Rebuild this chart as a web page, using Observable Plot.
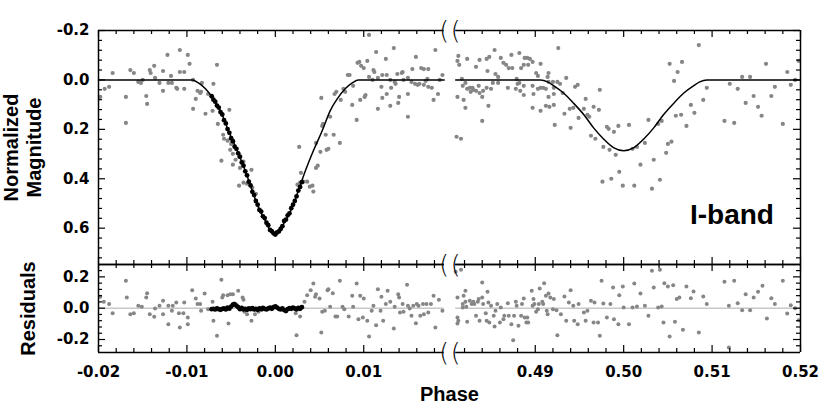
<!DOCTYPE html>
<html><head><meta charset="utf-8">
<script src="https://cdn.jsdelivr.net/npm/d3@7"></script>
<script src="https://cdn.jsdelivr.net/npm/@observablehq/plot@0.6"></script>
<style>
body{margin:0;background:#fff;}
#chart{position:relative;width:830px;height:413px;overflow:hidden;}
#chart svg{position:absolute;left:0;display:block;overflow:visible;}
</style></head><body><div id="chart"></div>
<script>
// ---------- DATA ----------
// axis tick labels (phase)
const xMajor = [-0.02, -0.01, 0.00, 0.01, 0.49, 0.50, 0.51, 0.52];
const yMajorTop = [-0.2, 0.0, 0.2, 0.4, 0.6];
const yMajorRes = [-0.2, 0.0, 0.2];

// model light curve: primary eclipse (left) and secondary eclipse (right)
const modelLeftPhase = [-0.0200, -0.0094, -0.0087, -0.0079, -0.0070, -0.0062, -0.0053, -0.0043, -0.0034, -0.0026, -0.0019, -0.0014, -0.0010, -0.0005, 0.0000, 0.0005, 0.0010, 0.0014, 0.0019, 0.0026, 0.0034, 0.0043, 0.0053, 0.0062, 0.0070, 0.0079, 0.0087, 0.0094, 0.0191];
const modelLeftMag   = [0.000, 0.000, 0.012, 0.036, 0.077, 0.125, 0.206, 0.287, 0.368, 0.449, 0.517, 0.553, 0.578, 0.614, 0.622, 0.614, 0.578, 0.553, 0.517, 0.449, 0.368, 0.287, 0.206, 0.125, 0.077, 0.036, 0.012, 0.000, 0.000];
const modelRightPhase = [0.4810, 0.4906, 0.4914, 0.4921, 0.4932, 0.4943, 0.4955, 0.4966, 0.4977, 0.4989, 0.5000, 0.5011, 0.5023, 0.5034, 0.5045, 0.5057, 0.5068, 0.5079, 0.5086, 0.5094, 0.5200];
const modelRightMag   = [0.000, 0.000, 0.008, 0.024, 0.053, 0.093, 0.141, 0.194, 0.238, 0.275, 0.287, 0.275, 0.238, 0.194, 0.141, 0.093, 0.053, 0.024, 0.008, 0.000, 0.000];

// dense (black) primary-eclipse observations
const blackPhase = [-0.0072,-0.0070,-0.0068,-0.0066,-0.0064,-0.0062,-0.0060,-0.0058,-0.0056,-0.0054,-0.0052,-0.0050,-0.0048,-0.0046,-0.0044,-0.0042,-0.0040,-0.0038,-0.0036,-0.0034,-0.0032,-0.0030,-0.0028,-0.0026,-0.0024,-0.0022,-0.0020,-0.0018,-0.0016,-0.0014,-0.0012,-0.0010,-0.0008,-0.0006,-0.0004,-0.0002,0.0000,0.0002,0.0004,0.0006,0.0008,0.0010,0.0012,0.0014,0.0016,0.0018,0.0020,0.0022,0.0024,0.0026,0.0028,0.0030];
const blackMag = [0.066,0.080,0.088,0.104,0.112,0.130,0.140,0.163,0.176,0.199,0.214,0.236,0.248,0.270,0.279,0.297,0.311,0.334,0.347,0.370,0.386,0.412,0.427,0.453,0.466,0.490,0.505,0.526,0.533,0.552,0.559,0.578,0.588,0.607,0.612,0.621,0.626,0.617,0.613,0.603,0.592,0.571,0.565,0.548,0.540,0.519,0.505,0.490,0.471,0.448,0.433,0.414];
const blackRes = [-0.006,-0.004,-0.008,-0.002,-0.006,-0.010,-0.004,-0.002,-0.008,0.004,-0.003,0.010,0.022,0.026,0.016,0.006,-0.006,0.002,-0.008,-0.004,-0.010,-0.002,-0.006,0.000,-0.008,-0.004,-0.010,-0.002,-0.006,0.002,-0.004,-0.008,-0.002,0.004,-0.004,0.006,0.012,0.004,-0.004,-0.008,-0.002,-0.012,-0.018,-0.006,0.000,-0.004,0.004,-0.002,-0.008,0.002,-0.004,0.006];

// sparse (gray) observations: [phase, normalized magnitude]
const grayMag = [
[-0.0198,0.069],[-0.0193,0.036],[-0.0188,0.028],[-0.0184,-0.028],[-0.0169,0.069],[-0.0169,0.174],[-0.0164,-0.040],[-0.0160,-0.028],[-0.0155,0.008],[-0.0152,0.012],[-0.0150,0.000],[-0.0146,0.065],[-0.0145,0.097],[-0.0142,-0.040],[-0.0141,-0.028],[-0.0137,-0.057],[-0.0136,-0.008],[-0.0131,0.012],[-0.0127,-0.036],[-0.0127,0.044],[-0.0122,-0.101],[-0.0121,0.012],[-0.0118,-0.016],[-0.0117,0.012],[-0.0112,0.032],[-0.0111,0.036],[-0.0108,-0.121],[-0.0108,-0.032],[-0.0103,-0.032],[-0.0103,0.036],[-0.0099,-0.101],[-0.0097,-0.065],[-0.0093,0.117],[-0.0093,0.000],[-0.0090,0.077],[-0.0088,0.044],[-0.0085,0.053],[-0.0084,0.048],[-0.0083,0.012],[-0.0079,0.137],[-0.0076,0.057],[-0.0070,0.016],[-0.0066,-0.061],[-0.0071,0.125],[-0.0052,0.121],[-0.0065,0.178],[-0.0059,0.222],[-0.0058,0.238],[-0.0054,0.246],[-0.0051,0.283],[-0.0050,0.259],[-0.0061,0.327],[-0.0048,0.299],[-0.0045,0.323],[-0.0041,0.311],[-0.0036,0.331],[-0.0048,0.343],[-0.0040,0.356],[-0.0027,0.364],[-0.0041,0.428],[-0.0036,0.416],[-0.0032,0.420],[-0.0026,0.436],[-0.0022,0.461],
[0.0027,0.271],[0.0029,0.376],[0.0025,0.424],[0.0028,0.416],[0.0032,0.412],[0.0036,0.412],[0.0039,0.432],[0.0042,0.428],[0.0043,0.452],[0.0046,0.255],[0.0051,0.291],[0.0058,0.283],[0.0060,0.279],[0.0046,0.356],[0.0048,0.347],[0.0057,0.222],[0.0066,0.222],[0.0073,0.255],[0.0053,0.186],[0.0054,0.178],[0.0062,0.149],[0.0092,0.162],[0.0052,0.073],[0.0074,0.081],[0.0087,0.101],[0.0069,0.048],[0.0067,0.057],[0.0079,0.048],[0.0077,0.036],[0.0088,0.024],[0.0082,-0.020],[0.0084,-0.020],[0.0093,-0.069],[0.0095,-0.073],[0.0097,-0.057],[0.0100,-0.048],[0.0096,0.081],[0.0101,0.069],[0.0102,0.061],[0.0104,-0.077],[0.0106,-0.182],[0.0106,-0.012],[0.0110,0.000],[0.0111,-0.040],[0.0112,-0.032],[0.0114,-0.113],[0.0116,-0.008],[0.0116,0.117],[0.0120,0.028],[0.0121,-0.020],[0.0121,0.073],[0.0125,-0.085],[0.0126,-0.020],[0.0126,0.057],[0.0130,0.000],[0.0130,0.105],[0.0131,0.032],[0.0134,-0.129],[0.0135,0.008],[0.0136,0.016],[0.0138,-0.024],[0.0139,0.093],[0.0140,0.069],[0.0143,-0.028],[0.0144,-0.032],[0.0145,0.000],[0.0150,-0.008],[0.0150,0.057],[0.0150,0.149],[0.0154,0.008],[0.0155,-0.044],[0.0158,0.016],[0.0159,-0.093],[0.0161,0.020],[0.0163,0.016],[0.0165,-0.048],[0.0168,-0.044],[0.0168,0.020],[0.0170,0.004],[0.0172,-0.004],[0.0173,-0.044],[0.0173,0.028],[0.0177,0.032],[0.0179,0.081],[0.0181,-0.121],[0.0184,0.057],[0.0186,0.000],[0.0189,-0.020],
[0.4813,-0.097],[0.4812,-0.077],[0.4814,-0.061],[0.4823,-0.085],[0.4833,-0.053],[0.4837,-0.081],[0.4845,-0.085],[0.4848,-0.093],[0.4854,-0.121],[0.4846,-0.036],[0.4861,-0.089],[0.4864,-0.069],[0.4867,-0.061],[0.4873,-0.101],[0.4870,-0.048],[0.4874,-0.048],[0.4882,-0.109],[0.4888,-0.089],[0.4891,-0.089],[0.4894,-0.085],[0.4897,-0.073],[0.4887,-0.061],[0.4884,-0.048],[0.4892,-0.061],[0.4906,-0.065],[0.4901,-0.028],[0.4903,-0.016],[0.4915,-0.028],[0.4914,-0.012],[0.4926,-0.129],[0.4935,-0.008],[0.4817,-0.004],[0.4818,0.024],[0.4821,0.012],[0.4823,0.036],[0.4826,0.032],[0.4827,0.048],[0.4829,0.032],[0.4830,0.040],[0.4833,0.044],[0.4836,0.024],[0.4837,0.053],[0.4841,0.044],[0.4840,0.069],[0.4845,0.032],[0.4850,0.036],[0.4852,0.012],[0.4855,-0.024],[0.4858,-0.012],[0.4858,0.012],[0.4869,0.032],[0.4879,-0.004],[0.4880,0.016],[0.4882,0.012],[0.4878,0.036],[0.4883,0.044],[0.4887,0.024],[0.4887,0.061],[0.4897,0.024],[0.4898,0.057],[0.4903,0.036],[0.4906,0.032],[0.4909,0.032],[0.4912,0.036],[0.4915,0.008],[0.4920,0.008],[0.4921,0.032],[0.4915,0.069],[0.4921,0.057],[0.4925,0.008],[0.4928,0.016],[0.4931,0.053],[0.4945,0.028],[0.4948,0.020],[0.4812,0.069],[0.4819,0.081],[0.4821,0.113],[0.4847,0.105],[0.4897,0.113],[0.4906,0.125],[0.4912,0.105],[0.4916,0.109],[0.4921,0.101],[0.4933,0.137],[0.4939,0.117],[0.4943,0.113],[0.4949,0.154],[0.4955,0.117],[0.4957,0.077],[0.4959,0.141],[0.4840,0.166],[0.4922,0.182],[0.4940,0.194],[0.4811,0.230],[0.4816,0.238],[0.4963,0.226],[0.4961,0.149],[0.4966,0.109],[0.4972,0.121],[0.4973,0.040],[0.4968,0.238],[0.4977,0.271],[0.4981,0.190],[0.4983,0.198],[0.4989,0.210],[0.4994,0.186],[0.4984,0.283],[0.4991,0.303],[0.4995,0.372],[0.5006,0.182],[0.5010,0.279],[0.5015,0.271],[0.5019,0.343],[0.5024,0.255],[0.5028,0.162],[0.5034,0.323],[0.5039,0.178],[0.5043,0.166],[0.5048,0.295],[0.5050,0.259],[0.5054,0.250],[0.4976,0.412],[0.4986,0.400],[0.4999,0.428],[0.5012,0.428],[0.5032,0.440],[0.5041,0.404],[0.5052,-0.065],[0.5057,0.004],[0.5061,-0.032],[0.5066,-0.073],[0.5059,0.145],[0.5065,0.141],[0.5071,0.186],[0.5076,0.101],[0.5080,0.133],[0.5085,-0.141],[0.5090,0.081],[0.5094,0.032],[0.5114,0.166],[0.5120,0.016],[0.5125,0.174],[0.5129,0.036],[0.5134,-0.012],[0.5138,0.093],[0.5143,-0.012],[0.5147,0.065],[0.5152,0.109],[0.5156,0.145],[0.5161,-0.065],[0.5167,0.065],[0.5171,0.028],[0.5180,0.178],[0.5185,-0.032],[0.5189,0.020],[0.5194,0.000],[0.5198,-0.077]
];

// sparse (gray) residuals: [phase, residual]
const grayRes = [
[-0.0198,0.073],[-0.0194,0.041],[-0.0188,0.026],[-0.0184,-0.032],[-0.0169,0.175],[-0.0168,0.068],[-0.0164,-0.038],[-0.0160,-0.032],[-0.0155,0.015],[-0.0151,0.009],[-0.0146,0.068],[-0.0145,0.096],[-0.0142,-0.038],[-0.0137,-0.055],[-0.0136,-0.002],[-0.0131,0.015],[-0.0127,0.047],[-0.0127,-0.038],[-0.0121,-0.102],[-0.0121,0.015],[-0.0117,-0.017],[-0.0116,0.015],[-0.0112,0.036],[-0.0109,-0.032],[-0.0108,-0.123],[-0.0104,-0.032],[-0.0103,0.036],[-0.0099,-0.059],[-0.0099,-0.102],[-0.0094,0.115],[-0.0090,0.062],[-0.0088,0.026],[-0.0085,0.026],[-0.0084,-0.017],[-0.0080,0.094],[-0.0076,-0.006],[-0.0071,0.041],[-0.0070,-0.081],[-0.0066,-0.176],[-0.0061,0.181],[-0.0060,0.068],[-0.0059,0.083],[-0.0054,0.083],[-0.0053,-0.098],[-0.0051,0.089],[-0.0048,0.089],[-0.0047,0.030],[-0.0042,0.111],[-0.0037,0.068],[-0.0036,0.054],[-0.0035,-0.023],[-0.0032,-0.038],[-0.0027,-0.081],[-0.0023,-0.038],[-0.0019,-0.023],[-0.0015,-0.010],
[0.0023,-0.032],[0.0024,-0.173],[0.0028,-0.053],[0.0033,0.041],[0.0036,0.083],[0.0040,0.115],[0.0043,0.158],[0.0045,0.073],[0.0046,0.089],[0.0050,0.062],[0.0052,-0.155],[0.0053,-0.023],[0.0056,-0.017],[0.0059,0.115],[0.0060,0.121],[0.0062,0.009],[0.0065,0.096],[0.0068,-0.053],[0.0070,-0.053],[0.0073,0.175],[0.0076,0.009],[0.0078,-0.006],[0.0083,-0.053],[0.0087,0.079],[0.0088,0.009],[0.0092,0.158],[0.0094,-0.070],[0.0096,0.079],[0.0099,-0.059],[0.0100,0.062],[0.0104,-0.081],[0.0106,-0.181],[0.0109,-0.017],[0.0111,0.015],[0.0114,-0.109],[0.0116,0.121],[0.0119,-0.017],[0.0120,0.073],[0.0122,-0.081],[0.0125,0.026],[0.0127,0.111],[0.0130,0.041],[0.0134,-0.130],[0.0135,0.009],[0.0139,0.089],[0.0140,0.068],[0.0141,-0.028],[0.0144,0.026],[0.0145,-0.023],[0.0150,0.015],[0.0149,0.150],[0.0152,-0.002],[0.0154,-0.049],[0.0156,0.015],[0.0159,-0.096],[0.0160,0.026],[0.0162,0.015],[0.0164,-0.049],[0.0167,0.026],[0.0168,-0.038],[0.0171,0.026],[0.0173,-0.028],[0.0176,0.026],[0.0179,0.079],[0.0181,-0.123],[0.0185,0.054],[0.0189,-0.017],
[0.4810,0.233],[0.4816,0.245],[0.4812,0.068],[0.4819,0.079],[0.4821,0.111],[0.4812,-0.059],[0.4813,-0.081],[0.4812,-0.098],[0.4818,0.026],[0.4818,0.004],[0.4821,0.041],[0.4822,0.009],[0.4823,-0.087],[0.4826,0.047],[0.4828,0.026],[0.4830,0.041],[0.4831,0.026],[0.4833,-0.049],[0.4835,0.041],[0.4836,0.058],[0.4837,-0.081],[0.4840,0.068],[0.4840,0.164],[0.4841,0.026],[0.4844,-0.032],[0.4845,-0.081],[0.4846,0.105],[0.4847,0.036],[0.4848,-0.091],[0.4850,0.015],[0.4853,-0.049],[0.4854,-0.117],[0.4855,-0.017],[0.4857,0.026],[0.4860,-0.091],[0.4861,0.004],[0.4864,-0.070],[0.4865,-0.049],[0.4869,0.032],[0.4870,-0.049],[0.4873,-0.102],[0.4875,-0.204],[0.4876,-0.049],[0.4878,0.041],[0.4879,0.015],[0.4881,-0.112],[0.4884,-0.049],[0.4885,0.026],[0.4887,0.062],[0.4888,-0.059],[0.4890,-0.091],[0.4891,-0.059],[0.4892,-0.091],[0.4896,0.111],[0.4897,0.015],[0.4898,0.058],[0.4899,0.026],[0.4901,-0.023],[0.4903,-0.006],[0.4904,0.026],[0.4905,0.126],[0.4908,0.041],[0.4909,0.026],[0.4910,0.160],[0.4912,0.079],[0.4913,-0.017],[0.4914,-0.038],[0.4915,0.094],[0.4917,0.068],[0.4920,-0.006],[0.4921,0.058],[0.4924,-0.013],[0.4925,-0.173],[0.4929,-0.038],[0.4933,0.075],[0.4935,-0.081],[0.4938,0.036],[0.4940,0.115],[0.4943,0.015],[0.4944,-0.081],[0.4948,-0.102],[0.4949,0.026],[0.4955,-0.028],[0.4957,-0.081],[0.4959,-0.017],[0.4963,0.047],[0.4966,-0.091],[0.4967,0.036],[0.4971,-0.091],[0.4973,-0.176],[0.4975,0.175],[0.4977,0.030],[0.4981,-0.059],[0.4985,0.026],[0.4988,0.132],[0.4989,-0.070],[0.4994,-0.102],[0.4995,0.083],[0.4999,0.139],[0.5000,0.004],[0.5006,-0.102],[0.5010,0.004],[0.5012,0.158],[0.5015,0.011],[0.5019,0.094],[0.5024,0.015],[0.5028,-0.049],[0.5032,0.239],[0.5034,0.132],[0.5039,0.004],[0.5041,0.245],[0.5043,0.011],[0.5045,-0.091],[0.5046,0.160],[0.5050,0.139],[0.5052,-0.181],[0.5056,0.147],[0.5058,-0.087],[0.5060,0.058],[0.5063,0.068],[0.5067,-0.138],[0.5071,0.139],[0.5076,0.064],[0.5079,0.107],[0.5085,-0.155],[0.5090,0.075],[0.5094,0.026],[0.5114,0.169],[0.5119,0.015],[0.5119,-0.251],[0.5125,0.175],[0.5129,0.032],[0.5134,-0.013],[0.5138,0.089],[0.5143,-0.013],[0.5147,0.068],[0.5152,0.105],[0.5157,0.143],[0.5162,-0.066],[0.5167,0.064],[0.5171,0.026],[0.5180,0.175],[0.5185,-0.034],[0.5189,0.019],[0.5194,0.000],[0.5198,-0.077]
];

// ---------- BROKEN AXIS ----------
const LEFT_END = 0.0191, RIGHT_START = 0.4810;
const SHIFT = 0.4606;                 // phase offset that closes the gap
const brk = p => (p > 0.25 ? p - SHIFT : p);
const unbrk = t => (t > 0.025 ? t + SHIFT : t);
const segments = [[-0.02, LEFT_END], [RIGHT_START, 0.52]];
const X0 = brk(-0.02), X1 = brk(0.52);

const W = 830, ML = 98, MR = 30;
const pxX = (X1 - X0) / (W - ML - MR);

const xMinor = [];
for (let k = -9; k <= 9; k++) if (k % 5 !== 0) xMinor.push(k * 0.002);
for (let k = 241; k <= 259; k++) if (k % 5 !== 0) xMinor.push(k * 0.002);

const FONT = "'Liberation Sans', Arial, Helvetica, sans-serif";
const TICKFONT = "'DejaVu Sans', 'Liberation Sans', sans-serif";
const GRAY = "#868686";

function frameMarks(yTop, yBot, pxY, yMajor, yMinor, breakEdges) {
  const m = [];
  const h = [];
  for (const s of segments) for (const y of [yTop, yBot]) h.push({y, a: s[0], b: s[1]});
  m.push(Plot.ruleY(h, {y: "y", x1: d => brk(d.a), x2: d => brk(d.b), stroke: "black", strokeWidth: 1.5}));
  m.push(Plot.ruleX([-0.02, 0.52], {x: brk, y1: yTop, y2: yBot, stroke: "black", strokeWidth: 1.5}));
  const xt = [...xMajor.map(v => ({v, len: 7})), ...xMinor.map(v => ({v, len: 4}))];
  m.push(Plot.ruleX(xt, {x: d => brk(d.v), y1: yTop, y2: d => yTop + d.len * pxY, stroke: "black", strokeWidth: 1.2}));
  m.push(Plot.ruleX(xt, {x: d => brk(d.v), y1: yBot, y2: d => yBot - d.len * pxY, stroke: "black", strokeWidth: 1.2}));
  const yt = [...yMajor.map(v => ({v, len: 7})), ...yMinor.map(v => ({v, len: 4}))];
  m.push(Plot.ruleY(yt, {y: d => d.v, x1: X0, x2: d => X0 + d.len * pxX, stroke: "black", strokeWidth: 1.2}));
  m.push(Plot.ruleY(yt, {y: d => d.v, x1: X1, x2: d => X1 - d.len * pxX, stroke: "black", strokeWidth: 1.2}));
  const bm = [];
  for (const x of [LEFT_END, RIGHT_START]) for (const y of breakEdges) bm.push({x, y});
  m.push(Plot.text(bm, {x: d => brk(d.x), y: "y", text: () => "(", fontSize: 25, fontFamily: "'DejaVu Sans', sans-serif", fontWeight: 200, lineAnchor: "middle", fill: "black"}));
  return m;
}

// ---------- TOP PANEL ----------
const topH = 264, topMT = 30, topMB = 0;
const tTop = -0.2, tBot = 0.747;
const pxYTop = (tBot - tTop) / (topH - topMT - topMB);
const yMinorTop = [];
for (let k = -4; k <= 18; k++) if (k % 5 !== 0) yMinorTop.push(k * 0.04);

const topPlot = Plot.plot({
  width: W, height: topH,
  marginLeft: ML, marginRight: MR, marginTop: topMT, marginBottom: topMB,
  style: {background: "transparent", fontFamily: FONT, overflow: "visible"},
  x: {domain: [X0, X1], axis: null},
  y: {domain: [tTop, tBot], range: [topMT, topH - topMB]},
  marks: [
    Plot.dot(grayMag, {x: d => brk(d[0]), y: d => d[1], r: 2.1, fill: GRAY, stroke: "none"}),
    Plot.line(modelLeftPhase.map((p, i) => [p, modelLeftMag[i]]), {x: d => brk(d[0]), y: d => d[1], curve: "monotone-x", stroke: "black", strokeWidth: 1.5}),
    Plot.line(modelRightPhase.map((p, i) => [p, modelRightMag[i]]), {x: d => brk(d[0]), y: d => d[1], curve: "monotone-x", stroke: "black", strokeWidth: 1.5}),
    Plot.dot(blackPhase.map((p, i) => [p, blackMag[i]]), {x: d => d[0], y: d => d[1], r: 2.4, fill: "black", stroke: "none"}),
    ...frameMarks(tTop, tBot, pxYTop, yMajorTop, yMinorTop, [tTop]),
    Plot.axisY({ticks: yMajorTop, tickSize: 0, tickPadding: 9, tickFormat: d => d.toFixed(1), fontSize: 15, fontFamily: TICKFONT, fontWeight: "bold", label: null}),
    Plot.text(["Normalized"], {frameAnchor: "left", dx: -87, rotate: -90, text: d => d, textAnchor: "middle", fontSize: 20, fontWeight: "bold", fontFamily: FONT, lineAnchor: "middle"}),
    Plot.text(["Magnitude"], {frameAnchor: "left", dx: -64, rotate: -90, text: d => d, textAnchor: "middle", fontSize: 20, fontWeight: "bold", fontFamily: FONT, lineAnchor: "middle"}),
    Plot.text(["I-band"], {x: () => brk(0.5170), y: () => 0.547, text: d => d, textAnchor: "end", lineAnchor: "middle", fontSize: 28, fontWeight: "bold", fontFamily: FONT})
  ]
});

// ---------- RESIDUAL PANEL ----------
const botH = 149, botMT = 0, botMB = 61;
const rTop = 0.279, rBot = -0.283;
const pxYBot = (rBot - rTop) / (botH - botMT - botMB);
const yMinorRes = [];
for (let k = -6; k <= 6; k++) if (k % 5 !== 0) yMinorRes.push(k * 0.04);

const botPlot = Plot.plot({
  width: W, height: botH,
  marginLeft: ML, marginRight: MR, marginTop: botMT, marginBottom: botMB,
  style: {background: "transparent", fontFamily: FONT, overflow: "visible"},
  x: {domain: [X0, X1]},
  y: {domain: [rTop, rBot], range: [botMT, botH - botMB]},
  marks: [
    Plot.ruleY(segments, {y: () => 0, x1: s => brk(s[0]), x2: s => brk(s[1]), stroke: "#c8c8c8", strokeWidth: 1.6}),
    Plot.dot(grayRes, {x: d => brk(d[0]), y: d => d[1], r: 2.0, fill: GRAY, stroke: "none"}),
    Plot.dot(blackPhase.map((p, i) => [p, blackRes[i]]), {x: d => d[0], y: d => d[1], r: 2.4, fill: "black", stroke: "none"}),
    ...frameMarks(rTop, rBot, pxYBot, yMajorRes, yMinorRes, [rTop, rBot]),
    Plot.axisY({ticks: yMajorRes, tickSize: 0, tickPadding: 9, tickFormat: d => d.toFixed(1), fontSize: 15, fontFamily: TICKFONT, fontWeight: "bold", label: null}),
    Plot.axisX({ticks: xMajor.map(brk), tickSize: 0, tickPadding: 14, tickFormat: d => unbrk(d).toFixed(2), fontSize: 15, fontFamily: TICKFONT, fontWeight: "bold", label: null, anchor: "bottom"}),
    Plot.text(["Residuals"], {frameAnchor: "left", dx: -70, rotate: -90, text: d => d, textAnchor: "middle", fontSize: 20, fontWeight: "bold", fontFamily: FONT, lineAnchor: "middle"}),
    Plot.text(["Phase"], {frameAnchor: "bottom", dy: 42, text: d => d, fontSize: 20, fontWeight: "bold", fontFamily: FONT, lineAnchor: "middle"})
  ]
});

const chart = document.getElementById("chart");
topPlot.style.top = "0px";
botPlot.style.top = "264px";
chart.appendChild(topPlot);
chart.appendChild(botPlot);
</script></body></html>
